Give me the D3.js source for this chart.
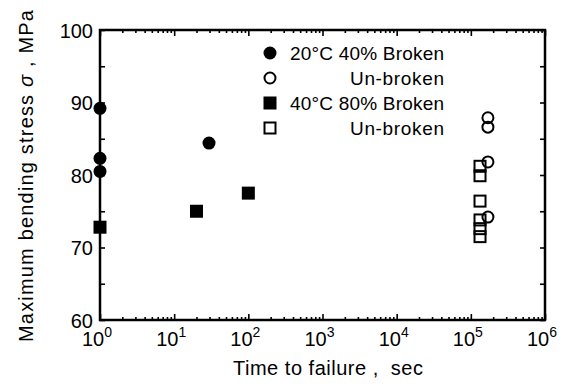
<!DOCTYPE html>
<html>
<head>
<meta charset="utf-8">
<script src="https://cdn.jsdelivr.net/npm/d3@7"></script>
<style>
  body { margin: 0; background: #fff; }
  svg { font-family: "Liberation Sans", Arial, sans-serif; }
</style>
</head>
<body>
<svg id="chart" width="572" height="385"></svg>
<script>
// data (time in sec, stress in MPa)
const broken20 = [[1, 89.2], [1, 82.3], [1, 80.5], [29.5, 84.4]];
const unbroken20 = [[1.7e5, 87.9], [1.7e5, 86.6], [1.7e5, 81.8], [1.7e5, 74.2]];
const broken40 = [[1, 72.8], [20, 75.0], [100, 77.5]];
const unbroken40 = [[1.33e5, 81.2], [1.33e5, 79.9], [1.33e5, 76.4], [1.33e5, 73.8], [1.33e5, 72.6], [1.33e5, 71.5]];
const xDecades = [0, 1, 2, 3, 4, 5, 6];
const yTicks = [60, 70, 80, 90, 100];
const legendItems = [
  { shape: "circle", filled: true, label: "20°C 40% Broken" },
  { shape: "circle", filled: false, label: "Un-broken" },
  { shape: "square", filled: true, label: "40°C 80% Broken" },
  { shape: "square", filled: false, label: "Un-broken" }
];

const svg = d3.select("#chart");
const pLeft = 100, pRight = 545, pTop = 30, pBottom = 320;

const x = d3.scaleLog().domain([1, 1e6]).range([pLeft, pRight]);
const y = d3.scaleLinear().domain([60, 100]).range([pBottom, pTop]);

const minorX = [];
xDecades.slice(0, -1).forEach(d => {
  for (let k = 2; k <= 9; k++) minorX.push(k * Math.pow(10, d));
});
const majorX = xDecades.map(d => Math.pow(10, d));
const allY = d3.range(60, 101, 5);

// ticks (inward)
const g = svg.append("g");
function tickAxis(axis, transform) {
  const a = g.append("g").attr("transform", transform).call(axis);
  a.selectAll("text").remove();
  a.select(".domain").remove();
  a.selectAll("line").attr("stroke", "#000").attr("stroke-width", 1.6);
}
tickAxis(d3.axisBottom(x).tickValues(majorX).tickSize(-6), `translate(0,${pBottom})`);
tickAxis(d3.axisBottom(x).tickValues(minorX).tickSize(-3), `translate(0,${pBottom})`);
tickAxis(d3.axisTop(x).tickValues(majorX).tickSize(-6), `translate(0,${pTop})`);
tickAxis(d3.axisTop(x).tickValues(minorX).tickSize(-3), `translate(0,${pTop})`);
tickAxis(d3.axisLeft(y).tickValues(allY).tickSize(-5), `translate(${pLeft},0)`);
tickAxis(d3.axisRight(y).tickValues(allY).tickSize(-5), `translate(${pRight},0)`);

// frame
svg.append("rect")
  .attr("x", pLeft).attr("y", pTop)
  .attr("width", pRight - pLeft).attr("height", pBottom - pTop)
  .attr("fill", "none").attr("stroke", "#000").attr("stroke-width", 2.5);

// y tick labels
svg.selectAll(".ylab").data(yTicks).enter().append("text")
  .attr("x", pLeft - 7).attr("y", d => y(d) + 7.5)
  .attr("text-anchor", "end").attr("font-size", 20)
  .text(d => d);

// x tick labels 10^n
const xl = svg.selectAll(".xlab").data(xDecades).enter().append("text")
  .attr("x", d => x(Math.pow(10, d)) - 3).attr("y", pBottom + 26)
  .attr("text-anchor", "middle").attr("font-size", 20);
xl.append("tspan").text("10");
xl.append("tspan").attr("dy", -9).attr("font-size", 14).text(d => d);

// axis titles
svg.append("text")
  .attr("x", 328).attr("y", 375)
  .attr("text-anchor", "middle").attr("font-size", 20)
  .attr("xml:space", "preserve")
  .attr("textLength", 190)
  .text("Time to failure ,  sec");

const yt = svg.append("text")
  .attr("transform", "translate(33,176) rotate(-90)")
  .attr("text-anchor", "middle").attr("font-size", 20)
  .attr("xml:space", "preserve")
  .attr("textLength", 332);
yt.append("tspan").text("Maximum bending stress ");
yt.append("tspan").attr("font-style", "italic").text("σ");
yt.append("tspan").text(" , MPa");

// markers
function drawMarkers(data, shape, filled) {
  const sel = svg.append("g").selectAll("path").data(data).enter();
  if (shape === "circle") {
    sel.append("circle")
      .attr("cx", d => x(d[0])).attr("cy", d => y(d[1]))
      .attr("r", filled ? 6.5 : 5.5)
      .attr("fill", filled ? "#000" : "none")
      .attr("stroke", "#000").attr("stroke-width", filled ? 0 : 2);
  } else {
    const s = filled ? 13 : 11;
    sel.append("rect")
      .attr("x", d => x(d[0]) - s / 2).attr("y", d => y(d[1]) - s / 2)
      .attr("width", s).attr("height", s)
      .attr("fill", filled ? "#000" : "none")
      .attr("stroke", "#000").attr("stroke-width", filled ? 0 : 2);
  }
}
drawMarkers(broken20, "circle", true);
drawMarkers(unbroken20, "circle", false);
drawMarkers(broken40, "square", true);
drawMarkers(unbroken40, "square", false);

// legend
const lg = svg.append("g");
legendItems.forEach((it, i) => {
  const cy = 53 + i * 25;
  if (it.shape === "circle") {
    lg.append("circle").attr("cx", 270).attr("cy", cy)
      .attr("r", it.filled ? 6.5 : 5.5)
      .attr("fill", it.filled ? "#000" : "none")
      .attr("stroke", "#000").attr("stroke-width", it.filled ? 0 : 2);
  } else {
    const s = it.filled ? 13 : 11;
    lg.append("rect").attr("x", 270 - s / 2).attr("y", cy - s / 2)
      .attr("width", s).attr("height", s)
      .attr("fill", it.filled ? "#000" : "none")
      .attr("stroke", "#000").attr("stroke-width", it.filled ? 0 : 2);
  }
  lg.append("text")
    .attr("x", it.filled ? 290 : 444).attr("y", cy + 7)
    .attr("text-anchor", it.filled ? "start" : "end")
    .attr("font-size", 19)
    .attr("textLength", it.filled ? 154 : 94)
    .text(it.label);
});
</script>
</body>
</html>
